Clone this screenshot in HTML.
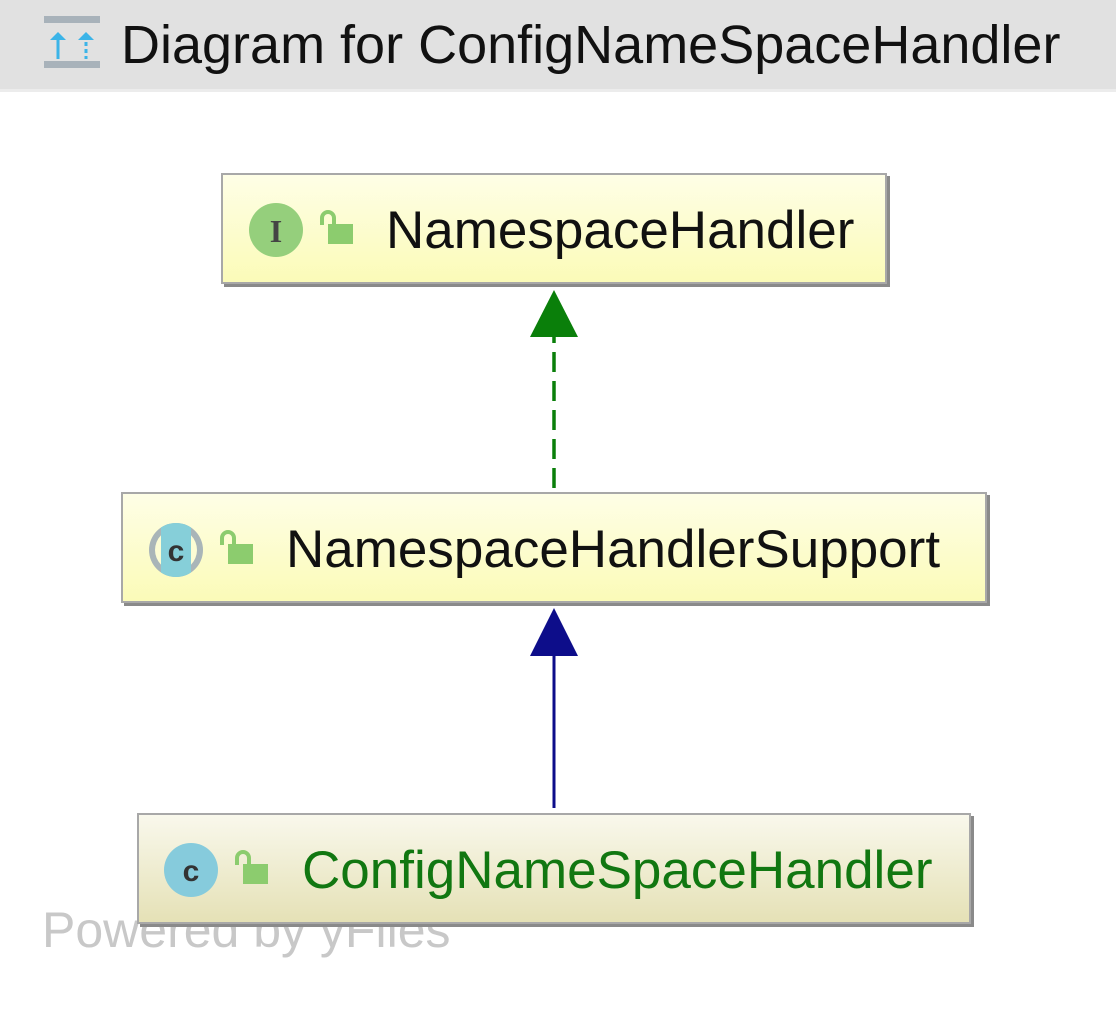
<!DOCTYPE html>
<html><head><meta charset="utf-8"><style>
*{margin:0;padding:0;box-sizing:border-box}
body{width:1116px;height:1026px;background:#fff;position:relative;overflow:hidden;font-family:"Liberation Sans",sans-serif}
.hdr{position:absolute;left:0;top:0;width:1116px;height:92px;background:#e1e1e1;border-bottom:3px solid #ececec}
.title{position:absolute;left:121px;top:13px;font-size:54px;line-height:64px;color:#111;white-space:nowrap}
.box{position:absolute;border:2px solid #a8a8a8;box-shadow:3px 3px 0 #8a8a8a}
.y{background:linear-gradient(#fefee6,#fbfbb8)}
.g{background:linear-gradient(#f9f8ec,#e5e1b6)}
.t{position:absolute;font-size:53px;line-height:60px;color:#111;white-space:nowrap;top:26px}
.pw{position:absolute;left:42px;top:900px;font-size:50px;line-height:60px;color:#c8c8c8;white-space:nowrap}
svg{position:absolute;left:0;top:0}
</style></head><body>
<div class="hdr"></div>
<svg width="120" height="92"><rect x="44" y="16" width="56" height="7" fill="#a8b2ba"/><rect x="44" y="61" width="56" height="7" fill="#a8b2ba"/>
<path d="M58 32 L50 40 L66 40 Z M86 32 L78 40 L94 40 Z" fill="#3bb4e8"/><rect x="56.5" y="39" width="3" height="20" fill="#3bb4e8"/><rect x="84.5" y="42" width="3" height="4" fill="#3bb4e8"/><rect x="84.5" y="49" width="3" height="4" fill="#3bb4e8"/><rect x="84.5" y="56" width="3" height="3" fill="#3bb4e8"/></svg>
<div class="title">Diagram for ConfigNameSpaceHandler</div>

<div class="pw">Powered by yFiles</div>

<div class="box y" style="left:221px;top:173px;width:666px;height:111px"><div class="t" style="left:163px">NamespaceHandler</div></div>
<div class="box y" style="left:121px;top:492px;width:866px;height:111px"><div class="t" style="left:163px">NamespaceHandlerSupport</div></div>
<div class="box g" style="left:137px;top:813px;width:834px;height:111px"><div class="t" style="left:163px;color:#117711">ConfigNameSpaceHandler</div></div>

<svg width="1116" height="1026">
<defs><clipPath id="cc"><circle cx="176" cy="550" r="27"/></clipPath></defs>
<circle cx="276" cy="230" r="27" fill="#95cf7c"/>
<text x="276" y="242" font-family="Liberation Serif" font-weight="bold" font-size="32" fill="#444" text-anchor="middle">I</text>
<g fill="none" stroke="#8ccc6e" stroke-width="4"><path d="M322 225 V218 A6 6 0 0 1 334 218 V224"/></g><rect x="328" y="224" width="25" height="20" fill="#8ccc6e"/>
<g clip-path="url(#cc)">
<rect x="149" y="523" width="54" height="54" fill="#a9b5b8"/>
<circle cx="176" cy="550" r="21" fill="#fcfcd4"/>
<rect x="161" y="523" width="30" height="54" fill="#86cfd9"/>
</g>
<text x="176" y="561" font-family="Liberation Sans" font-weight="bold" font-size="30" fill="#333" text-anchor="middle">c</text>
<g fill="none" stroke="#8ccc6e" stroke-width="4"><path d="M222 545 V538 A6 6 0 0 1 234 538 V544"/></g><rect x="228" y="544" width="25" height="20" fill="#8ccc6e"/>
<circle cx="191" cy="870" r="27" fill="#86cbdc"/>
<text x="191" y="881" font-family="Liberation Sans" font-weight="bold" font-size="30" fill="#333" text-anchor="middle">c</text>
<g fill="none" stroke="#8ccc6e" stroke-width="4"><path d="M237 865 V858 A6 6 0 0 1 249 858 V864"/></g><rect x="243" y="864" width="25" height="20" fill="#8ccc6e"/>
<line x1="554" y1="488" x2="554" y2="336" stroke="#0a7f0a" stroke-width="3.5" stroke-dasharray="20,9"/>
<path d="M554 290 L530 337 L578 337 Z" fill="#0a7f0a"/>
<line x1="554" y1="808" x2="554" y2="654" stroke="#0d0d8a" stroke-width="3"/>
<path d="M554 608 L530 656 L578 656 Z" fill="#0d0d8a"/>
</svg>
</body></html>
